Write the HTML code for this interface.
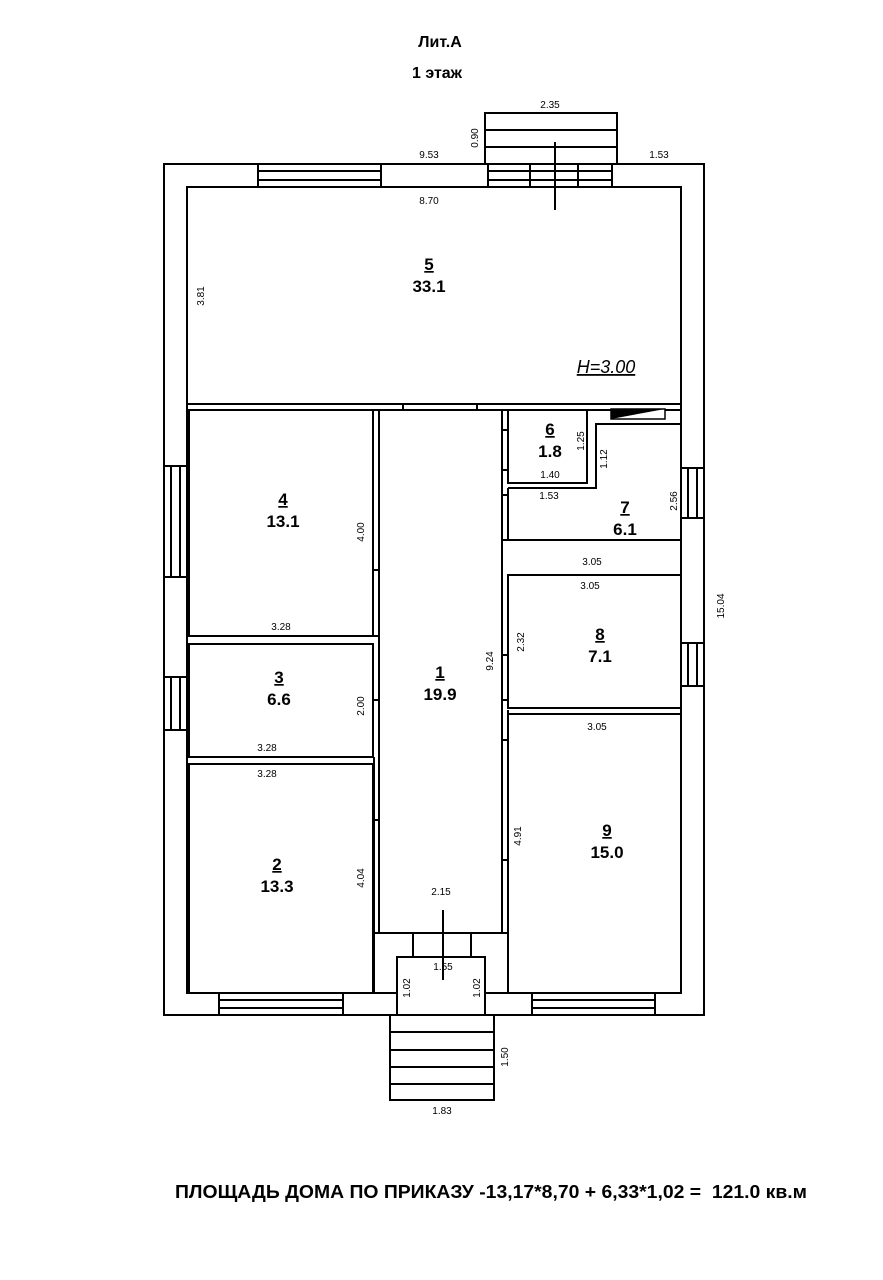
<!DOCTYPE html>
<html><head><meta charset="utf-8"><style>
html,body{margin:0;padding:0;background:#fff}
svg{display:block}
text{font-family:"Liberation Sans",sans-serif;fill:#000}
.d{font-size:10px}
.n{font-size:17px;font-weight:bold;text-anchor:middle}
</style></head><body>
<svg width="883" height="1280" viewBox="0 0 883 1280">
<g fill="none" stroke="#000" stroke-width="2">
<rect x="164" y="164" width="540" height="851" fill="#fff"/>
<rect x="187" y="187" width="494" height="806"/>
<line x1="187" y1="404" x2="681" y2="404"/>
<line x1="187" y1="410" x2="681" y2="410"/>
<line x1="403" y1="404" x2="403" y2="410"/><line x1="477" y1="404" x2="477" y2="410"/>
<rect x="189" y="410" width="184" height="226"/>
<rect x="189" y="644" width="184" height="113"/>
<rect x="189" y="764" width="184" height="229"/>
<line x1="379" y1="410" x2="379" y2="933"/><line x1="502" y1="410" x2="502" y2="933"/>
<line x1="379" y1="933" x2="502" y2="933"/>
<line x1="374" y1="757" x2="374" y2="993"/>
<line x1="508" y1="710" x2="508" y2="993"/>
<line x1="374" y1="933" x2="379" y2="933"/><line x1="502" y1="933" x2="508" y2="933"/>
<line x1="374" y1="993" x2="397" y2="993"/><line x1="485" y1="993" x2="508" y2="993"/>
<rect x="508" y="410" width="79" height="73"/>
<polyline points="508,488 596,488 596,424 681,424"/>
<line x1="508" y1="488" x2="508" y2="540"/>
<line x1="508" y1="540" x2="681" y2="540"/>
<rect x="508" y="575" width="173" height="133"/>
<rect x="508" y="714" width="173" height="279"/>
<line x1="373" y1="570" x2="379" y2="570"/><line x1="373" y1="636" x2="379" y2="636"/>
<line x1="373" y1="700" x2="379" y2="700"/><line x1="373" y1="820" x2="379" y2="820"/>
<line x1="502" y1="430" x2="508" y2="430"/><line x1="502" y1="470" x2="508" y2="470"/>
<line x1="502" y1="495" x2="508" y2="495"/><line x1="502" y1="540" x2="508" y2="540"/>
<line x1="502" y1="655" x2="508" y2="655"/><line x1="502" y1="700" x2="508" y2="700"/>
<line x1="502" y1="740" x2="508" y2="740"/><line x1="502" y1="860" x2="508" y2="860"/>
<rect x="258" y="164" width="123" height="23" fill="#fff"/><line x1="258" y1="171" x2="381" y2="171"/><line x1="258" y1="180" x2="381" y2="180"/>
<rect x="488" y="164" width="124" height="23" fill="#fff"/><line x1="488" y1="171" x2="612" y2="171"/><line x1="488" y1="180" x2="612" y2="180"/>
<line x1="530" y1="164" x2="530" y2="187"/><line x1="578" y1="164" x2="578" y2="187"/>
<rect x="164" y="466" width="23" height="111" fill="#fff"/><line x1="171" y1="466" x2="171" y2="577"/><line x1="180" y1="466" x2="180" y2="577"/>
<rect x="164" y="677" width="23" height="53" fill="#fff"/><line x1="171" y1="677" x2="171" y2="730"/><line x1="180" y1="677" x2="180" y2="730"/>
<rect x="681" y="468" width="23" height="50" fill="#fff"/><line x1="688" y1="468" x2="688" y2="518"/><line x1="697" y1="468" x2="697" y2="518"/>
<rect x="681" y="643" width="23" height="43" fill="#fff"/><line x1="688" y1="643" x2="688" y2="686"/><line x1="697" y1="643" x2="697" y2="686"/>
<rect x="219" y="993" width="124" height="22" fill="#fff"/><line x1="219" y1="1000" x2="343" y2="1000"/><line x1="219" y1="1008" x2="343" y2="1008"/>
<rect x="532" y="993" width="123" height="22" fill="#fff"/><line x1="532" y1="1000" x2="655" y2="1000"/><line x1="532" y1="1008" x2="655" y2="1008"/>
<rect x="485" y="113" width="132" height="51"/><line x1="485" y1="130" x2="617" y2="130"/><line x1="485" y1="147" x2="617" y2="147"/>
<line x1="555" y1="142" x2="555" y2="210"/>
<rect x="397" y="957" width="88" height="58" fill="#fff"/>
<line x1="413" y1="933" x2="413" y2="957"/><line x1="471" y1="933" x2="471" y2="957"/>
<line x1="443" y1="910" x2="443" y2="980"/>
<rect x="390" y="1015" width="104" height="85"/>
<line x1="390" y1="1032" x2="494" y2="1032"/><line x1="390" y1="1050" x2="494" y2="1050"/>
<line x1="390" y1="1067" x2="494" y2="1067"/><line x1="390" y1="1084" x2="494" y2="1084"/>
</g>
<polygon points="611,409 665,409 665,419 611,419" fill="#fff" stroke="#000" stroke-width="1.5"/>
<polygon points="611,409 665,409 611,419" fill="#000"/>
<text x="440" y="47" font-size="16" font-weight="bold" text-anchor="middle">Лит.А</text>
<text x="437" y="78" font-size="16" font-weight="bold" text-anchor="middle">1 этаж</text>
<text x="175" y="1198" font-size="18" font-weight="bold" textLength="632" lengthAdjust="spacingAndGlyphs" xml:space="preserve">ПЛОЩАДЬ ДОМА ПО ПРИКАЗУ -13,17*8,70 + 6,33*1,02 =  121.0 кв.м</text>
<g class="n">
<text x="429" y="270" text-decoration="underline">5</text><text x="429" y="292">33.1</text>
<text x="283" y="505" text-decoration="underline">4</text><text x="283" y="527">13.1</text>
<text x="279" y="683" text-decoration="underline">3</text><text x="279" y="705">6.6</text>
<text x="277" y="870" text-decoration="underline">2</text><text x="277" y="892">13.3</text>
<text x="440" y="678" text-decoration="underline">1</text><text x="440" y="700">19.9</text>
<text x="550" y="435" text-decoration="underline">6</text><text x="550" y="457">1.8</text>
<text x="625" y="513" text-decoration="underline">7</text><text x="625" y="535">6.1</text>
<text x="600" y="640" text-decoration="underline">8</text><text x="600" y="662">7.1</text>
<text x="607" y="836" text-decoration="underline">9</text><text x="607" y="858">15.0</text>
</g>
<text x="606" y="373" font-size="18" font-style="italic" text-anchor="middle" text-decoration="underline">H=3.00</text>
<g class="d" text-anchor="middle">
<text x="550" y="108">2.35</text>
<text x="429" y="158">9.53</text>
<text x="659" y="158">1.53</text>
<text x="429" y="204">8.70</text>
<text x="281" y="630">3.28</text>
<text x="267" y="751">3.28</text>
<text x="267" y="777">3.28</text>
<text x="441" y="895">2.15</text>
<text x="443" y="970">1.55</text>
<text x="442" y="1114">1.83</text>
<text x="550" y="478">1.40</text>
<text x="549" y="499">1.53</text>
<text x="592" y="565">3.05</text>
<text x="590" y="589">3.05</text>
<text x="597" y="730">3.05</text>
</g>
<g class="d" text-anchor="middle">
<text transform="translate(478,138) rotate(-90)">0.90</text>
<text transform="translate(204,296) rotate(-90)">3.81</text>
<text transform="translate(364,532) rotate(-90)">4.00</text>
<text transform="translate(364,706) rotate(-90)">2.00</text>
<text transform="translate(364,878) rotate(-90)">4.04</text>
<text transform="translate(493,661) rotate(-90)">9.24</text>
<text transform="translate(524,642) rotate(-90)">2.32</text>
<text transform="translate(521,836) rotate(-90)">4.91</text>
<text transform="translate(584,441) rotate(-90)">1.25</text>
<text transform="translate(607,459) rotate(-90)">1.12</text>
<text transform="translate(677,501) rotate(-90)">2.56</text>
<text transform="translate(724,606) rotate(-90)">15.04</text>
<text transform="translate(410,988) rotate(-90)">1.02</text>
<text transform="translate(480,988) rotate(-90)">1.02</text>
<text transform="translate(508,1057) rotate(-90)">1.50</text>
</g>
</svg>
</body></html>
